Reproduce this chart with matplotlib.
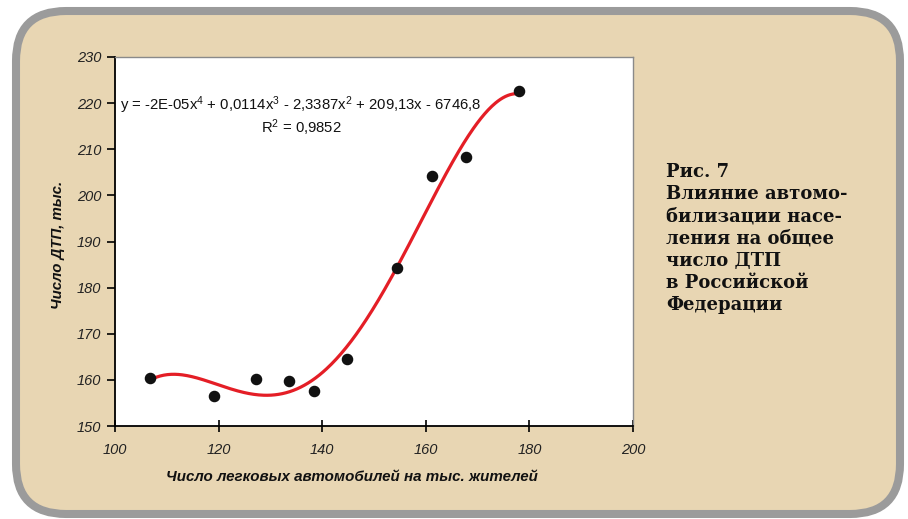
import numpy as np
import matplotlib
matplotlib.use("Agg")
import matplotlib.pyplot as plt
from matplotlib.patches import FancyBboxPatch

# Data
cars_per_1000 = [106.8, 119.1, 127.2, 133.6, 138.4, 144.8, 154.4, 161.2, 167.8, 178.0]
accidents_thousands = [160.4, 156.5, 160.2, 159.8, 157.6, 164.5, 184.3, 204.2, 208.3, 222.6]
x_ticks = [100, 120, 140, 160, 180, 200]
y_ticks = [150, 160, 170, 180, 190, 200, 210, 220, 230]
equation = "y = -2E-05x$^4$ + 0,0114x$^3$ - 2,3387x$^2$ + 209,13x - 6746,8"
r2_text = "R$^2$ = 0,9852"
x_label = "Число легковых автомобилей на тыс. жителей"
y_label = "Число ДТП, тыс."
caption = "Рис. 7\nВлияние автомо-\nбилизации насе-\nления на общее\nчисло ДТП\nв Российской\nФедерации"

plt.rcParams['font.family'] = ['Liberation Sans', 'DejaVu Sans']
plt.rcParams['mathtext.fontset'] = 'custom'
plt.rcParams['mathtext.rm'] = 'Liberation Sans'
plt.rcParams['mathtext.it'] = 'Liberation Sans:italic'

W, H = 908, 519
fig = plt.figure(figsize=(W / 100, H / 100), dpi=100)
fig.patch.set_facecolor('white')

# background axes in pixel units for the rounded beige panel
bg = fig.add_axes([0, 0, 1, 1], zorder=-1)
bg.set_xlim(0, W)
bg.set_ylim(H, 0)
bg.axis('off')
box = FancyBboxPatch((16, 11), 884, 503,
                     boxstyle="round,pad=0,rounding_size=50",
                     facecolor='#e8d6b3', edgecolor='#9b9b9b', linewidth=5.8)
bg.add_patch(box)

# axes: x 115..633 px, y 57..426 px
ax = fig.add_axes([115 / W, 1 - 426 / H, (633 - 115) / W, (426 - 57) / H], zorder=1)
ax.set_facecolor('white')
ax.set_xlim(100, 200)
ax.set_ylim(150, 230)
ax.set_xticks(x_ticks)
ax.set_yticks(y_ticks)
ax.set_xticklabels([str(v) for v in x_ticks], fontstyle='italic')
ax.set_yticklabels([str(v) for v in y_ticks], fontstyle='italic')
for s in ['top', 'right']:
    ax.spines[s].set_color('#8a8a8a')
    ax.spines[s].set_linewidth(1.0)
for s in ['left', 'bottom']:
    ax.spines[s].set_color('black')
    ax.spines[s].set_linewidth(1.3)
ax.tick_params(axis='both', width=1.2, color='black',
               labelsize=10.5, labelcolor='#222222')
ax.tick_params(axis='x', direction='inout', length=8, pad=8)
ax.tick_params(axis='y', direction='out', length=6, pad=4)

# polynomial trend (degree 4) fitted to the data
coef = np.polyfit(cars_per_1000, accidents_thousands, 4)
xs = np.linspace(min(cars_per_1000), max(cars_per_1000), 300)
ax.plot(xs, np.polyval(coef, xs), color='#e41e26', linewidth=2.3, zorder=2)
ax.plot(cars_per_1000, accidents_thousands, 'o', color='#111111', markersize=7.3, zorder=3)

ax.text(101.0, 219.6, equation, fontsize=10.7, color='#111111', va='center', ha='left')
ax.text(136.0, 214.7, r2_text, fontsize=10.7, color='#111111', va='center', ha='center')

fig.text(351.5 / W, 1 - 477 / H, x_label, ha='center', va='center',
         fontsize=10.9, fontweight='bold', fontstyle='italic', color='#111111')
fig.text(58 / W, 1 - 245 / H, y_label, ha='center', va='center', rotation=90,
         fontsize=10.8, fontweight='bold', fontstyle='italic', color='#111111')

fig.text(666 / W, 1 - 163 / H, caption, ha='left', va='top', fontsize=13,
         fontweight='bold', family=['DejaVu Serif'], color='#111111', linespacing=1.3)

fig.savefig('out.png', dpi=100, facecolor='white')
